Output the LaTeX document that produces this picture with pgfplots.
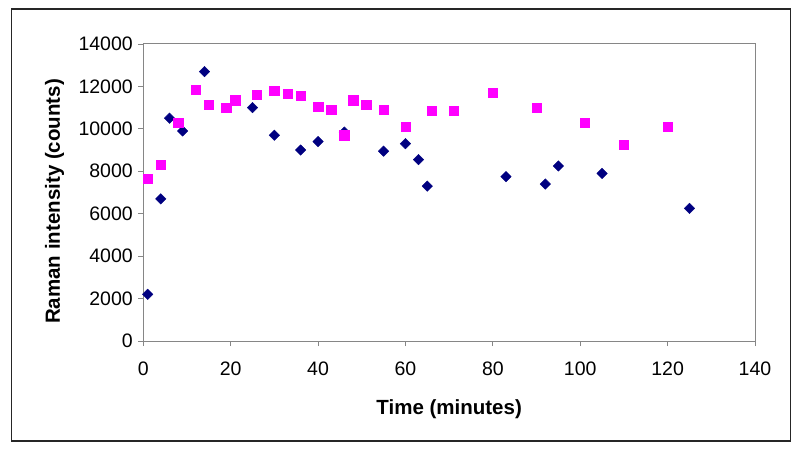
\documentclass[border=0pt]{standalone}
\usepackage{fontspec}
\setmainfont{Liberation Sans}
\usepackage{pgfplots}
\pgfplotsset{compat=1.18}
\definecolor{navyblue}{HTML}{000080}
\definecolor{xlmagenta}{HTML}{FF00FF}
\definecolor{axisgray}{HTML}{868686}

\begin{document}
\begin{tikzpicture}
% page extent and outer chart frame
\path (-143.3pt,-111pt) rectangle (656.7pt,341pt);
\draw[line width=1.3pt, black!85] (-132pt,-100pt) rectangle (647pt,332pt);
\begin{axis}[
  scale only axis,
  width=611.7pt, height=297pt,
  xmin=0, xmax=140, ymin=0, ymax=14000,
  xtick distance=20, ytick distance=2000,
  xtick pos=bottom, ytick pos=left,
  tick align=outside, major tick length=5pt,
  axis line style={axisgray, line width=1pt},
  tick style={axisgray, line width=0.8pt},
  scaled ticks=false,
  /pgf/number format/1000 sep={},
  /pgf/number format/assume math mode=true,
  ticklabel style={font=\fontsize{19.5}{21}\selectfont},
  xticklabel style={yshift=-12pt},
  yticklabel style={xshift=-2pt},
  label style={font=\bfseries\fontsize{20.5}{22}\selectfont},
  xlabel={Time (minutes)},
  ylabel={Raman intensity (counts)},
  xlabel style={at={(axis description cs:0.5,-0.228)}, anchor=center},
  ylabel style={at={(axis description cs:-0.145,0.47)}, anchor=center},
]
\addplot[only marks, mark=square*, mark size=3.7pt,
  mark options={rotate=45, fill=navyblue, draw=navyblue}] coordinates {
  (1,2200) (4,6700) (6,10500) (9,9900) (14,12700) (25,11000) (30,9700)
  (36,9000) (40,9400) (46,9850) (55,8950) (60,9300) (63,8550) (65,7300)
  (83,7750) (92,7400) (95,8250) (105,7900) (125,6250)
};
\addplot[only marks, mark=square*, mark size=4.7pt,
  mark options={fill=xlmagenta, draw=xlmagenta}] coordinates {
  (1,7650) (4,8300) (8,10300) (12,11850) (15,11150) (19,11000) (21,11350)
  (26,11600) (30,11800) (33,11650) (36,11570) (40,11050) (43,10900)
  (46,9700) (48,11350) (51,11150) (55,10900) (60,10100) (66,10850)
  (71,10850) (80,11700) (90,11000) (101,10300) (110,9250) (120,10100)
};
\end{axis}
\end{tikzpicture}
\end{document}
